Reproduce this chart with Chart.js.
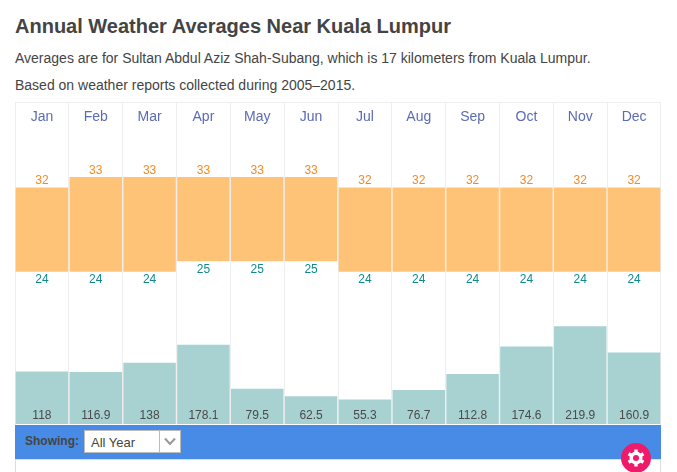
<!DOCTYPE html>
<html><head><meta charset="utf-8">
<script src="https://cdn.jsdelivr.net/npm/chart.js@4"></script>
<style>
html,body{margin:0;padding:0;background:#fff;overflow:hidden;width:677px;height:472px;font-family:"Liberation Sans",Arial,sans-serif;color:#444}
.t{position:absolute;left:15px;white-space:nowrap}
#title{top:14px;font-size:20px;font-weight:bold;line-height:24px;color:#444}
#p1{top:49px;font-size:14px;line-height:18px}
#p2{top:76px;font-size:14px;line-height:18px}
#wrap{position:absolute;left:15px;top:102px;width:646px;height:323px;border-top:1px solid #eee;border-left:1px solid #eee;border-right:1px solid #eee;box-sizing:border-box}
#c{position:absolute;left:-1px;top:0;display:block}
#bar{position:absolute;left:15px;top:425px;width:646px;height:34px;background:#478be6}
#low{position:absolute;left:15px;top:459px;width:646px;height:13px;border-left:1px solid #ddd;border-right:1px solid #ddd;border-top:1px solid #ddd;box-sizing:border-box}
#lab{position:absolute;left:10px;top:8px;font-size:12px;font-weight:bold;color:#444;line-height:16px}
#sel{position:absolute;left:69px;top:5px;width:97px;height:23px;background:#fff;border:1px solid #bbb;box-sizing:border-box;font-size:13px;line-height:23px;padding-left:6px;color:#444}
#sep{position:absolute;left:74px;top:0;width:1px;height:21px;background:#bbb}
#gear{position:absolute;left:621px;top:443px;width:30px;height:30px}
</style></head>
<body>
<div class="t" id="title">Annual Weather Averages Near Kuala Lumpur</div>
<div class="t" id="p1">Averages are for Sultan Abdul Aziz Shah-Subang, which is 17 kilometers from Kuala Lumpur.</div>
<div class="t" id="p2">Based on weather reports collected during 2005–2015.</div>
<div id="wrap"><canvas id="c" width="646" height="321" style="width:646px;height:321px"></canvas></div>
<div id="bar"><div id="lab">Showing:</div><div id="sel">All Year<div id="sep"></div>
<svg style="position:absolute;left:79px;top:6px" width="12" height="9"><path d="M1 1.5 L6 7 L11 1.5" fill="none" stroke="#999" stroke-width="2"/></svg></div></div>
<div id="low"></div>
<svg id="gear" viewBox="0 0 30 30"><circle cx="15" cy="15" r="15" fill="#ee1b6a"/>
<g fill="#fff"><circle cx="15" cy="15" r="6.5"/>
<g stroke="#fff" stroke-width="3.4"><path d="M15 6.5V23.5"/><path d="M7.6 10.75L22.4 19.25"/><path d="M7.6 19.25L22.4 10.75"/></g></g>
<circle cx="15" cy="15" r="3" fill="#ee1b6a"/></svg>
<script>
const months=["Jan","Feb","Mar","Apr","May","Jun","Jul","Aug","Sep","Oct","Nov","Dec"];
const highs=[32,33,33,33,33,33,32,32,32,32,32,32];
const lows=[24,24,24,25,25,25,24,24,24,24,24,24];
const precip=[118,116.9,138,178.1,79.5,62.5,55.3,76.7,112.8,174.6,219.9,160.9];
const tempRange=lows.map((l,i)=>[l,highs[i]]);

const valueLabels={id:'valueLabels',afterDatasetsDraw(chart){
  const {ctx,scales:{x,yT,yP}}=chart;
  ctx.save();ctx.font='12px "Liberation Sans",Arial,sans-serif';ctx.textAlign='center';ctx.textBaseline='middle';
  months.forEach((m,i)=>{
    const cx=x.getPixelForValue(i);
    ctx.fillStyle='#f58a25';ctx.fillText(highs[i],cx,yT.getPixelForValue(highs[i])-6.5);
    ctx.fillStyle='#0e8a8f';ctx.fillText(lows[i],cx,yT.getPixelForValue(lows[i])+8);
    ctx.fillStyle='#4a4a4a';ctx.fillText(precip[i],cx,yP.getPixelForValue(0)-8.5);
  });
  ctx.restore();
}};

new Chart(document.getElementById('c'),{
  type:'bar',
  data:{labels:months,datasets:[
    {data:tempRange,yAxisID:'yT',backgroundColor:'#ffc378',barPercentage:1,categoryPercentage:0.975,borderWidth:0},
    {data:precip,yAxisID:'yP',backgroundColor:'#a8d1d1',barPercentage:1,categoryPercentage:0.975,borderWidth:0}
  ]},
  options:{
    responsive:false,animation:false,devicePixelRatio:1,
    layout:{padding:0},
    plugins:{legend:{display:false},tooltip:{enabled:false}},
    datasets:{bar:{grouped:false}},
    scales:{
      x:{position:'top',offset:true,
        grid:{offset:true,color:'#eeeeee',lineWidth:1,tickLength:30,drawTicks:true,tickColor:'#eeeeee'},
        border:{display:false},
        ticks:{autoSkip:false,maxRotation:0,padding:-23,color:'#5c6bb5',font:{size:14,family:'"Liberation Sans",Arial,sans-serif'}},
        afterFit(s){s.height=30}
      },
      yT:{display:false,min:9.52,max:37.19},
      yP:{display:false,min:0,max:655}
    }
  },
  plugins:[valueLabels]
});
</script>
</body></html>
